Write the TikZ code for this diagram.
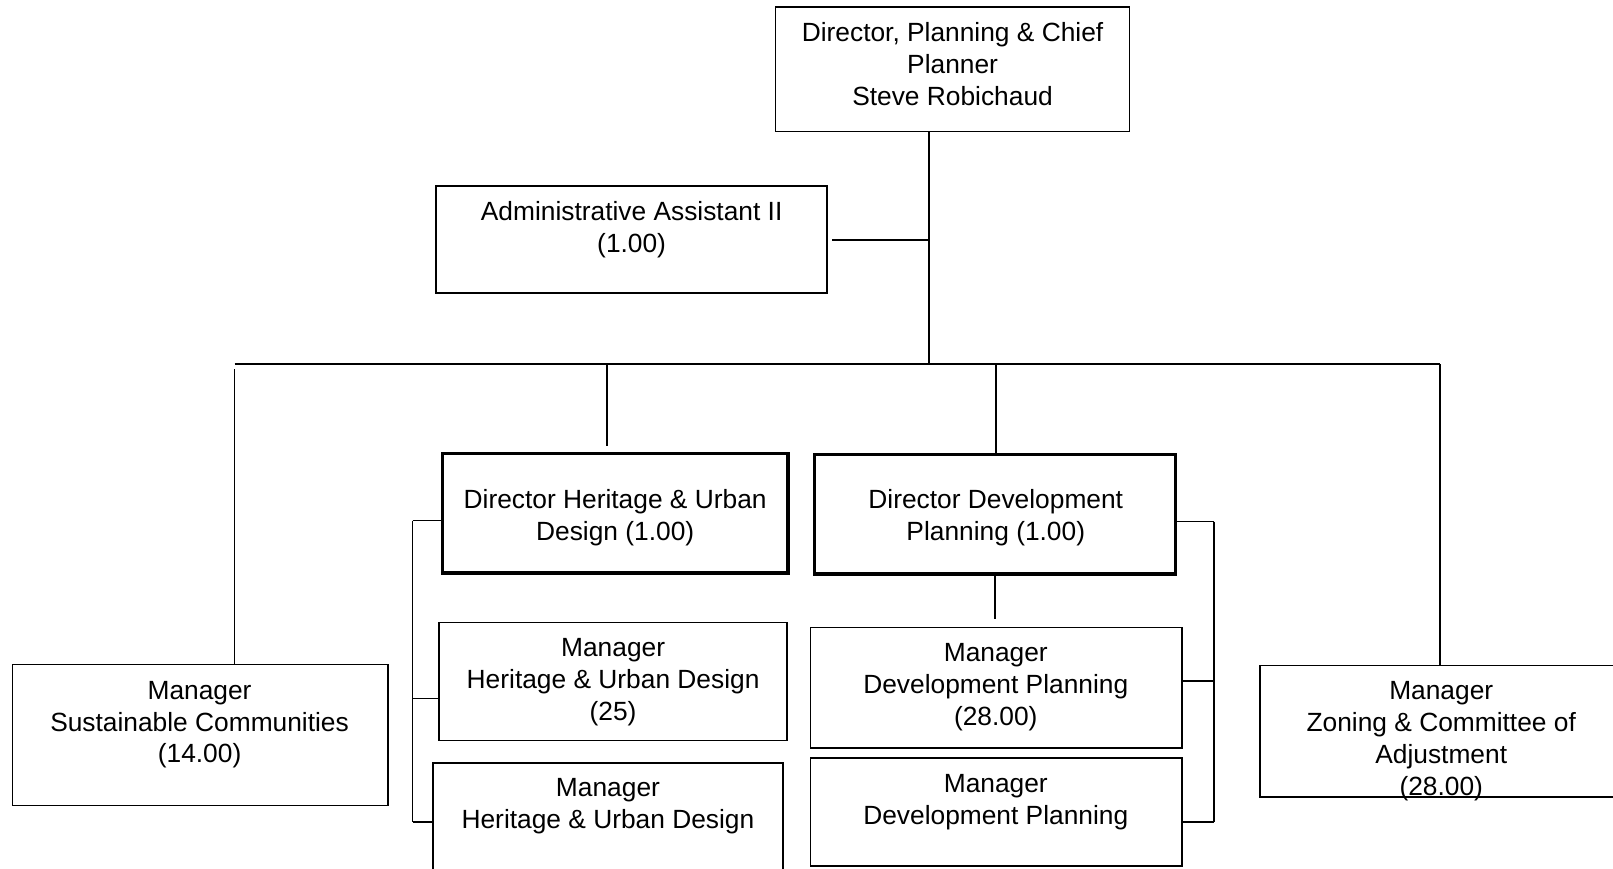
\documentclass[tikz,border=0pt]{standalone}
\usepackage{fontspec}
\setmainfont{Liberation Sans}
\usetikzlibrary{positioning}

\begin{document}
\begin{tikzpicture}[x=0.5pt, y=-0.5pt,
        box/.style={draw, line width=0.8pt, inner sep=0pt},
        thickbox/.style={box, line width=1.5pt},
        txt/.style={align=center, inner sep=0pt, yshift=-1.5pt, font=\fontsize{12.8}{15.5}\selectfont},
        link/.style={line width=0.8pt}]
    \useasboundingbox (0,0) rectangle (1568,844);

    % Top of the chart
    \node[box, minimum width=172pt, minimum height=60.5pt] (chief) at (926,67.5) {};
    \node[txt] (chief-t) at (926,59) {Director, Planning \& Chief\\Planner\\Steve Robichaud};
    \node[box, minimum width=190pt, minimum height=52pt] (admin) at (614,233) {};
    \node[txt] (admin-t) at (614,220) {Administrative Assistant II\\(1.00)};

    % Directors
    \node[thickbox, minimum width=168pt, minimum height=58pt] (dirH) at (598,499) {};
    \node[txt] (dirH-t) at (598,500) {Director Heritage \& Urban\\Design (1.00)};
    \node[thickbox, minimum width=175.5pt, minimum height=58pt] (dirD) at (967.5,500) {};
    \node[txt] (dirD-t) at (968,500.5) {Director Development\\Planning (1.00)};

    % Managers
    \node[box, minimum width=182.5pt, minimum height=68.5pt] (sust) at (194.5,714.5) {};
    \node[txt] (sust-t) at (194,701.5) {Manager\\Sustainable Communities\\(14.00)};
    \node[box, minimum width=169pt, minimum height=57.5pt] (mgrH1) at (596,662.5) {};
    \node[txt] (mgrH1-t) at (596,660) {Manager\\Heritage \& Urban Design\\(25)};
    \node[box, minimum width=170pt, minimum height=69pt] (mgrH2) at (591,811) {};
    \node[txt] (mgrH2-t) at (591,781) {Manager\\Heritage \& Urban Design};
    \node[box, minimum width=180.5pt, minimum height=58.5pt] (mgrD1) at (968.5,668.5) {};
    \node[txt] (mgrD1-t) at (968,665) {Manager\\Development Planning\\(28.00)};
    \node[box, minimum width=180.5pt, minimum height=52.5pt] (mgrD2) at (968.5,789.5) {};
    \node[txt] (mgrD2-t) at (968,776.5) {Manager\\Development Planning};
    \node[box, minimum width=177.5pt, minimum height=64pt] (zon) at (1402.5,711) {};
    \node[txt] (zon-t) at (1401,717.5) {Manager\\Zoning \& Committee of\\Adjustment\\(28.00)};

    % Reporting lines
    \coordinate (hub) at (903,354);
    \coordinate (adm-j) at (903,233);
    \coordinate (bus-l) at (228,354);
    \coordinate (bus-h) at (590,354);
    \coordinate (bus-d) at (968,354);
    \coordinate (bus-r) at (1400,354);
    \draw[link] (chief.south -| hub) -- (hub);
    \draw[link, shorten <=2pt] (admin.east) -- (adm-j);
    \draw[link] (bus-l) -- (bus-r);
    \draw[link, shorten <=2.5pt] (bus-l) -- (bus-l |- sust.north);
    \draw[link, shorten >=3pt] (bus-h) -- (bus-h |- dirH.north);
    \draw[link] (bus-d) -- (bus-d |- dirD.north);
    \draw[link] (bus-r) -- (bus-r |- zon.north);
    \draw[link, shorten >=3.5pt] (dirD.south) -- (dirD.south |- mgrD1.north);

    % Side brackets
    \coordinate (lb1) at (401,506);
    \coordinate (lb2) at (401,679);
    \coordinate (lb3) at (401,799);
    \coordinate (rb1) at (1180,507);
    \coordinate (rb2) at (1180,662);
    \coordinate (rb3) at (1180,799);
    \draw[link] (lb1) -- (lb3);
    \draw[link] (rb1) -- (rb3);
    \foreach \c/\n in {lb1/dirH, lb2/mgrH1, lb3/mgrH2}
        \draw[link] (\c) -- (\c -| \n.west);
    \foreach \c/\n in {rb1/dirD, rb2/mgrD1, rb3/mgrD2}
        \draw[link] (\c) -- (\c -| \n.east);
\end{tikzpicture}
\end{document}
